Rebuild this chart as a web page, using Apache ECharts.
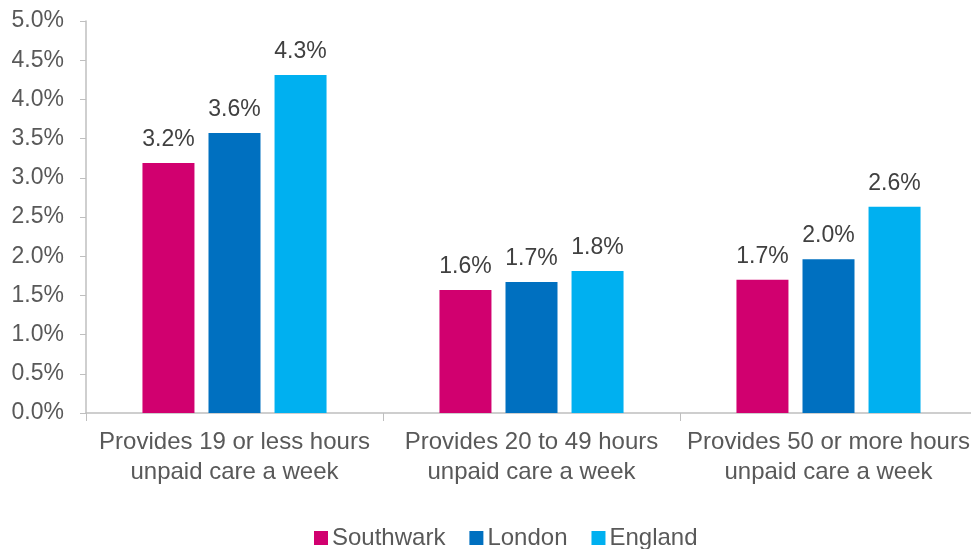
<!DOCTYPE html>
<html>
<head>
<meta charset="utf-8">
<script src="https://cdn.jsdelivr.net/npm/echarts@6/dist/echarts.min.js"></script>
<style>
  html, body { margin: 0; padding: 0; background: #fff; overflow: hidden; }
  #main { width: 977px; height: 549px; }
</style>
</head>
<body>
<div id="main"></div>
<script>
  // categories and values (percent)
  var categories = [
    'Provides 19 or less hours\nunpaid care a week',
    'Provides 20 to 49 hours\nunpaid care a week',
    'Provides 50 or more hours\nunpaid care a week'
  ];
  var southwark = [3.19, 1.57, 1.70];
  var london = [3.57, 1.67, 1.96];
  var england = [4.31, 1.81, 2.63];
  var yTicks = [0, 0.5, 1, 1.5, 2, 2.5, 3, 3.5, 4, 4.5, 5];

  var font = 'Liberation Sans, Arial, sans-serif';

  function makeSeries(name, data, color) {
    return {
      name: name,
      type: 'bar',
      data: data,
      barWidth: 52,
      barGap: '27%',
      itemStyle: { color: color },
      label: {
        show: true,
        position: 'top',
        distance: 12,
        fontFamily: font,
        fontSize: 23,
        color: '#404040',
        formatter: function (p) { return p.value.toFixed(1) + '%'; }
      }
    };
  }

  // chart is 6px wider than the window, the plot runs to the right edge
  var myChart = echarts.init(document.getElementById('main'));
  var option = {
    animation: false,
    grid: { left: 86, right: 0, top: 21, bottom: 136, containLabel: false },
    legend: {
      top: 521,
      left: 309,
      itemWidth: 14,
      itemHeight: 14,
      itemGap: 24,
      icon: 'rect',
      textStyle: { fontFamily: font, fontSize: 24, color: '#595959', padding: [0, 0, 0, -1] },
      data: ['Southwark', 'London', 'England']
    },
    xAxis: {
      type: 'category',
      data: categories,
      axisLine: { lineStyle: { color: '#bfbfbf', width: 1.5 } },
      axisTick: { show: true, length: 8, lineStyle: { color: '#bfbfbf' } },
      axisLabel: {
        fontFamily: font,
        fontSize: 24,
        color: '#595959',
        lineHeight: 30,
        margin: 14,
        interval: 0
      }
    },
    yAxis: {
      type: 'value',
      min: yTicks[0],
      max: yTicks[yTicks.length - 1],
      interval: 0.5,
      splitLine: { show: false },
      axisLine: { show: true, lineStyle: { color: '#bfbfbf', width: 1.5 } },
      axisTick: { show: true, length: 6, lineStyle: { color: '#bfbfbf' } },
      axisLabel: {
        fontFamily: font,
        fontSize: 23,
        color: '#595959',
        margin: 22,
        formatter: function (v) { return v.toFixed(1) + '%'; }
      }
    },
    series: [
      makeSeries('Southwark', southwark, '#d1006f'),
      makeSeries('London', london, '#0070c0'),
      makeSeries('England', england, '#00b0f0')
    ]
  };
  myChart.setOption(option);
</script>
</body>
</html>
